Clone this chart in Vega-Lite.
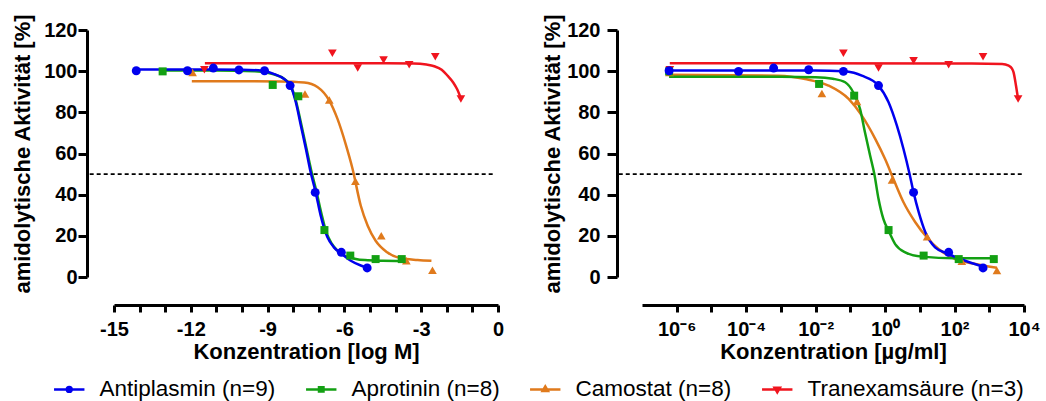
{
  "$schema": "https://vega.github.io/schema/vega-lite/v6.json",
  "padding": {"left": 11, "top": 13, "right": 0, "bottom": 0},
  "spacing": 37,
  "config": {
    "font": "Liberation Sans",
    "view": {"stroke": null},
    "axis": {
      "grid": false,
      "domainColor": "#000000",
      "domainWidth": 3,
      "tickColor": "#000000",
      "tickWidth": 3,
      "labelColor": "#000000",
      "labelFont": "Liberation Sans",
      "labelFontSize": 20,
      "labelFontWeight": "bold",
      "titleColor": "#000000",
      "titleFont": "Liberation Sans",
      "titleFontSize": 22,
      "titleFontWeight": "bold",
      "labelFlush": false,
      "labelOverlap": false,
      "labelBound": false
    }
  },
  "datasets": {
    "leftCurves": [
      {"series": "Tranexamsäure (n=3)", "x": -11.45, "y": 103.8},
      {"series": "Tranexamsäure (n=3)", "x": -8, "y": 103.8},
      {"series": "Tranexamsäure (n=3)", "x": -5, "y": 103.8},
      {"series": "Tranexamsäure (n=3)", "x": -3.3, "y": 103.7},
      {"series": "Tranexamsäure (n=3)", "x": -2.8, "y": 103.2},
      {"series": "Tranexamsäure (n=3)", "x": -2.49, "y": 102.4},
      {"series": "Tranexamsäure (n=3)", "x": -2.2, "y": 100.7},
      {"series": "Tranexamsäure (n=3)", "x": -1.97, "y": 97.8},
      {"series": "Tranexamsäure (n=3)", "x": -1.75, "y": 94.5},
      {"series": "Tranexamsäure (n=3)", "x": -1.6, "y": 91.3},
      {"series": "Tranexamsäure (n=3)", "x": -1.45, "y": 86.8},
      {"series": "Camostat (n=8)", "x": -11.96, "y": 95.1},
      {"series": "Camostat (n=8)", "x": -10, "y": 95.1},
      {"series": "Camostat (n=8)", "x": -8.5, "y": 95.0},
      {"series": "Camostat (n=8)", "x": -7.57, "y": 94.5},
      {"series": "Camostat (n=8)", "x": -7.04, "y": 92.2},
      {"series": "Camostat (n=8)", "x": -6.59, "y": 85.7},
      {"series": "Camostat (n=8)", "x": -6.27, "y": 76.8},
      {"series": "Camostat (n=8)", "x": -5.95, "y": 64.6},
      {"series": "Camostat (n=8)", "x": -5.68, "y": 52.5},
      {"series": "Camostat (n=8)", "x": -5.36, "y": 34.6},
      {"series": "Camostat (n=8)", "x": -5.09, "y": 24.9},
      {"series": "Camostat (n=8)", "x": -4.78, "y": 17.6},
      {"series": "Camostat (n=8)", "x": -4.33, "y": 12.0},
      {"series": "Camostat (n=8)", "x": -3.8, "y": 9.1},
      {"series": "Camostat (n=8)", "x": -3.14, "y": 8.3},
      {"series": "Camostat (n=8)", "x": -2.6, "y": 7.9},
      {"series": "Aprotinin (n=8)", "x": -13.1, "y": 100.3},
      {"series": "Aprotinin (n=8)", "x": -11, "y": 100.3},
      {"series": "Aprotinin (n=8)", "x": -9.5, "y": 100.0},
      {"series": "Aprotinin (n=8)", "x": -8.8, "y": 98.6},
      {"series": "Aprotinin (n=8)", "x": -8.35, "y": 96.2},
      {"series": "Aprotinin (n=8)", "x": -8.1, "y": 93.0},
      {"series": "Aprotinin (n=8)", "x": -7.9, "y": 86.0},
      {"series": "Aprotinin (n=8)", "x": -7.7, "y": 75.0},
      {"series": "Aprotinin (n=8)", "x": -7.5, "y": 63.5},
      {"series": "Aprotinin (n=8)", "x": -7.3, "y": 52.0},
      {"series": "Aprotinin (n=8)", "x": -7.1, "y": 42.0},
      {"series": "Aprotinin (n=8)", "x": -6.9, "y": 31.0},
      {"series": "Aprotinin (n=8)", "x": -6.7, "y": 21.5},
      {"series": "Aprotinin (n=8)", "x": -6.5, "y": 16.3},
      {"series": "Aprotinin (n=8)", "x": -6.27, "y": 12.8},
      {"series": "Aprotinin (n=8)", "x": -6.0, "y": 10.4},
      {"series": "Aprotinin (n=8)", "x": -5.6, "y": 8.9},
      {"series": "Aprotinin (n=8)", "x": -5.2, "y": 8.2},
      {"series": "Aprotinin (n=8)", "x": -4.5, "y": 7.9},
      {"series": "Aprotinin (n=8)", "x": -3.76, "y": 7.8},
      {"series": "Antiplasmin (n=9)", "x": -14.13, "y": 100.8},
      {"series": "Antiplasmin (n=9)", "x": -12, "y": 100.8},
      {"series": "Antiplasmin (n=9)", "x": -10, "y": 100.7},
      {"series": "Antiplasmin (n=9)", "x": -9.2, "y": 100.2},
      {"series": "Antiplasmin (n=9)", "x": -8.74, "y": 98.6},
      {"series": "Antiplasmin (n=9)", "x": -8.35, "y": 96.2},
      {"series": "Antiplasmin (n=9)", "x": -8.1, "y": 92.8},
      {"series": "Antiplasmin (n=9)", "x": -7.9, "y": 85.0},
      {"series": "Antiplasmin (n=9)", "x": -7.7, "y": 73.5},
      {"series": "Antiplasmin (n=9)", "x": -7.5, "y": 62.0},
      {"series": "Antiplasmin (n=9)", "x": -7.32, "y": 51.0},
      {"series": "Antiplasmin (n=9)", "x": -7.12, "y": 41.0},
      {"series": "Antiplasmin (n=9)", "x": -6.93, "y": 30.0},
      {"series": "Antiplasmin (n=9)", "x": -6.67, "y": 19.5},
      {"series": "Antiplasmin (n=9)", "x": -6.41, "y": 14.4},
      {"series": "Antiplasmin (n=9)", "x": -6.11, "y": 11.3},
      {"series": "Antiplasmin (n=9)", "x": -5.75, "y": 7.9},
      {"series": "Antiplasmin (n=9)", "x": -5.36, "y": 5.6},
      {"series": "Antiplasmin (n=9)", "x": -5.11, "y": 4.6}
    ],
    "leftPoints": [
      {"series": "Tranexamsäure (n=3)", "x": -11.47, "y": 100.7},
      {"series": "Tranexamsäure (n=3)", "x": -6.47, "y": 108.7},
      {"series": "Tranexamsäure (n=3)", "x": -5.48, "y": 101.5},
      {"series": "Tranexamsäure (n=3)", "x": -4.47, "y": 105.4},
      {"series": "Tranexamsäure (n=3)", "x": -3.47, "y": 103.1},
      {"series": "Tranexamsäure (n=3)", "x": -2.45, "y": 107.0},
      {"series": "Tranexamsäure (n=3)", "x": -1.45, "y": 86.5},
      {"series": "Camostat (n=8)", "x": -11.93, "y": 99.4},
      {"series": "Camostat (n=8)", "x": -7.54, "y": 88.9},
      {"series": "Camostat (n=8)", "x": -6.59, "y": 86.0},
      {"series": "Camostat (n=8)", "x": -5.57, "y": 46.5},
      {"series": "Camostat (n=8)", "x": -4.56, "y": 20.1},
      {"series": "Camostat (n=8)", "x": -3.58, "y": 7.9},
      {"series": "Camostat (n=8)", "x": -2.56, "y": 3.3},
      {"series": "Aprotinin (n=8)", "x": -13.1, "y": 99.9},
      {"series": "Aprotinin (n=8)", "x": -8.8, "y": 93.3},
      {"series": "Aprotinin (n=8)", "x": -7.8, "y": 87.8},
      {"series": "Aprotinin (n=8)", "x": -6.78, "y": 22.8},
      {"series": "Aprotinin (n=8)", "x": -5.77, "y": 10.4},
      {"series": "Aprotinin (n=8)", "x": -4.78, "y": 8.7},
      {"series": "Aprotinin (n=8)", "x": -3.76, "y": 8.7},
      {"series": "Antiplasmin (n=9)", "x": -14.13, "y": 100.2},
      {"series": "Antiplasmin (n=9)", "x": -12.13, "y": 100.2},
      {"series": "Antiplasmin (n=9)", "x": -11.12, "y": 101.5},
      {"series": "Antiplasmin (n=9)", "x": -10.12, "y": 100.6},
      {"series": "Antiplasmin (n=9)", "x": -9.12, "y": 100.2},
      {"series": "Antiplasmin (n=9)", "x": -8.12, "y": 93.0},
      {"series": "Antiplasmin (n=9)", "x": -7.14, "y": 41.1},
      {"series": "Antiplasmin (n=9)", "x": -6.12, "y": 12.0},
      {"series": "Antiplasmin (n=9)", "x": -5.11, "y": 4.4}
    ],
    "rightCurves": [
      {"series": "Tranexamsäure (n=3)", "x": 6.31e-7, "y": 103.8},
      {"series": "Tranexamsäure (n=3)", "x": 0.001, "y": 103.8},
      {"series": "Tranexamsäure (n=3)", "x": 100, "y": 103.7},
      {"series": "Tranexamsäure (n=3)", "x": 2344, "y": 103.5},
      {"series": "Tranexamsäure (n=3)", "x": 3631, "y": 102.7},
      {"series": "Tranexamsäure (n=3)", "x": 4467, "y": 101.4},
      {"series": "Tranexamsäure (n=3)", "x": 5012, "y": 99.4},
      {"series": "Tranexamsäure (n=3)", "x": 5888, "y": 92.9},
      {"series": "Tranexamsäure (n=3)", "x": 6761, "y": 86.5},
      {"series": "Camostat (n=8)", "x": 6.17e-7, "y": 98.3},
      {"series": "Camostat (n=8)", "x": 8.51e-4, "y": 97.8},
      {"series": "Camostat (n=8)", "x": 5.01e-3, "y": 96.2},
      {"series": "Camostat (n=8)", "x": 0.02344, "y": 93.0},
      {"series": "Camostat (n=8)", "x": 0.0891, "y": 86.5},
      {"series": "Camostat (n=8)", "x": 0.2138, "y": 78.4},
      {"series": "Camostat (n=8)", "x": 0.5248, "y": 67.0},
      {"series": "Camostat (n=8)", "x": 1.0, "y": 57.3},
      {"series": "Camostat (n=8)", "x": 1.738, "y": 47.6},
      {"series": "Camostat (n=8)", "x": 3.388, "y": 36.3},
      {"series": "Camostat (n=8)", "x": 7.413, "y": 26.6},
      {"series": "Camostat (n=8)", "x": 15.85, "y": 19.3},
      {"series": "Camostat (n=8)", "x": 34.67, "y": 13.6},
      {"series": "Camostat (n=8)", "x": 104.7, "y": 8.7},
      {"series": "Camostat (n=8)", "x": 398.1, "y": 6.3},
      {"series": "Camostat (n=8)", "x": 1660, "y": 4.5},
      {"series": "Aprotinin (n=8)", "x": 6.03e-7, "y": 97.3},
      {"series": "Aprotinin (n=8)", "x": 0.001, "y": 97.3},
      {"series": "Aprotinin (n=8)", "x": 0.01, "y": 97.1},
      {"series": "Aprotinin (n=8)", "x": 0.0316, "y": 96.3},
      {"series": "Aprotinin (n=8)", "x": 0.0708, "y": 94.6},
      {"series": "Aprotinin (n=8)", "x": 0.123, "y": 89.5},
      {"series": "Aprotinin (n=8)", "x": 0.1905, "y": 81.6},
      {"series": "Aprotinin (n=8)", "x": 0.263, "y": 70.3},
      {"series": "Aprotinin (n=8)", "x": 0.3715, "y": 58.9},
      {"series": "Aprotinin (n=8)", "x": 0.49, "y": 50.0},
      {"series": "Aprotinin (n=8)", "x": 0.646, "y": 38.0},
      {"series": "Aprotinin (n=8)", "x": 0.891, "y": 28.2},
      {"series": "Aprotinin (n=8)", "x": 1.259, "y": 22.5},
      {"series": "Aprotinin (n=8)", "x": 1.95, "y": 16.0},
      {"series": "Aprotinin (n=8)", "x": 3.8, "y": 12.0},
      {"series": "Aprotinin (n=8)", "x": 11.48, "y": 9.9},
      {"series": "Aprotinin (n=8)", "x": 104.7, "y": 9.1},
      {"series": "Aprotinin (n=8)", "x": 1349, "y": 9.1},
      {"series": "Antiplasmin (n=9)", "x": 6.03e-7, "y": 100.3},
      {"series": "Antiplasmin (n=9)", "x": 0.0001, "y": 100.3},
      {"series": "Antiplasmin (n=9)", "x": 0.01, "y": 100.3},
      {"series": "Antiplasmin (n=9)", "x": 0.0631, "y": 100.0},
      {"series": "Antiplasmin (n=9)", "x": 0.1259, "y": 99.2},
      {"series": "Antiplasmin (n=9)", "x": 0.2138, "y": 97.8},
      {"series": "Antiplasmin (n=9)", "x": 0.646, "y": 93.0},
      {"series": "Antiplasmin (n=9)", "x": 1.259, "y": 84.9},
      {"series": "Antiplasmin (n=9)", "x": 2.188, "y": 73.5},
      {"series": "Antiplasmin (n=9)", "x": 3.388, "y": 62.2},
      {"series": "Antiplasmin (n=9)", "x": 5.012, "y": 50.4},
      {"series": "Antiplasmin (n=9)", "x": 6.607, "y": 41.1},
      {"series": "Antiplasmin (n=9)", "x": 9.333, "y": 31.4},
      {"series": "Antiplasmin (n=9)", "x": 14.45, "y": 21.7},
      {"series": "Antiplasmin (n=9)", "x": 27.54, "y": 14.4},
      {"series": "Antiplasmin (n=9)", "x": 64.57, "y": 11.3},
      {"series": "Antiplasmin (n=9)", "x": 162.2, "y": 8.5},
      {"series": "Antiplasmin (n=9)", "x": 660.7, "y": 5.0}
    ],
    "rightPoints": [
      {"series": "Tranexamsäure (n=3)", "x": 6.31e-7, "y": 100.7},
      {"series": "Tranexamsäure (n=3)", "x": 0.0631, "y": 108.7},
      {"series": "Tranexamsäure (n=3)", "x": 0.646, "y": 101.5},
      {"series": "Tranexamsäure (n=3)", "x": 6.61, "y": 105.1},
      {"series": "Tranexamsäure (n=3)", "x": 67.6, "y": 103.1},
      {"series": "Tranexamsäure (n=3)", "x": 661, "y": 107.0},
      {"series": "Tranexamsäure (n=3)", "x": 6761, "y": 86.5},
      {"series": "Camostat (n=8)", "x": 6.17e-7, "y": 99.4},
      {"series": "Camostat (n=8)", "x": 0.01514, "y": 89.2},
      {"series": "Camostat (n=8)", "x": 0.1549, "y": 85.3},
      {"series": "Camostat (n=8)", "x": 1.585, "y": 47.1},
      {"series": "Camostat (n=8)", "x": 16.22, "y": 19.6},
      {"series": "Camostat (n=8)", "x": 162.2, "y": 7.6},
      {"series": "Camostat (n=8)", "x": 1660, "y": 3.1},
      {"series": "Aprotinin (n=8)", "x": 6.03e-7, "y": 99.9},
      {"series": "Aprotinin (n=8)", "x": 0.01259, "y": 93.8},
      {"series": "Aprotinin (n=8)", "x": 0.1288, "y": 88.1},
      {"series": "Aprotinin (n=8)", "x": 1.259, "y": 22.8},
      {"series": "Aprotinin (n=8)", "x": 12.88, "y": 10.4},
      {"series": "Aprotinin (n=8)", "x": 131.8, "y": 8.7},
      {"series": "Aprotinin (n=8)", "x": 1349, "y": 8.7},
      {"series": "Antiplasmin (n=9)", "x": 6.03e-7, "y": 100.2},
      {"series": "Antiplasmin (n=9)", "x": 6.03e-5, "y": 99.9},
      {"series": "Antiplasmin (n=9)", "x": 6.17e-4, "y": 101.5},
      {"series": "Antiplasmin (n=9)", "x": 6.31e-3, "y": 100.7},
      {"series": "Antiplasmin (n=9)", "x": 0.0631, "y": 99.9},
      {"series": "Antiplasmin (n=9)", "x": 0.646, "y": 93.0},
      {"series": "Antiplasmin (n=9)", "x": 6.61, "y": 41.1},
      {"series": "Antiplasmin (n=9)", "x": 67.6, "y": 12.0},
      {"series": "Antiplasmin (n=9)", "x": 661, "y": 4.4}
    ]
  },
  "hconcat": [
    {
      "width": 384,
      "height": 247,
      "encoding": {
        "x": {
          "field": "x",
          "type": "quantitative",
          "scale": {"domain": [-15, 0], "nice": false, "zero": false},
          "axis": {
            "title": "Konzentration [log M]",
            "values": [-15, -14, -13, -12, -11, -10, -9, -8, -7, -6, -5, -4, -3, -2, -1, 0],
            "labelExpr": "datum.value % 3 === 0 ? '' + datum.value : ''",
            "offset": 28,
            "tickSize": 7,
            "labelPadding": 7,
            "titlePadding": 2,
            "encode": {"ticks": {"update": {"y2": {"signal": "datum.value % 3 === 0 ? 7 : 4.5"}}}}
          }
        },
        "y": {
          "field": "y",
          "type": "quantitative",
          "scale": {"domain": [0, 120], "nice": false, "zero": false},
          "axis": {
            "title": "amidolytische Aktivität [%]",
            "values": [0, 20, 40, 60, 80, 100, 120],
            "offset": 27,
            "tickSize": 9,
            "labelPadding": 1,
            "titlePadding": 9
          }
        }
      },
      "layer": [
        {
          "data": {"values": [{"x": -15.95, "x2": -0.09, "y": 50}]},
          "mark": {"type": "rule", "color": "#000000", "strokeWidth": 1.6, "strokeDash": [4, 3]},
          "encoding": {"x2": {"field": "x2"}}
        },
        {
          "data": {"name": "leftCurves"},
          "mark": {"type": "line", "interpolate": "monotone", "strokeWidth": 2.5},
          "encoding": {
            "color": {
              "field": "series",
              "type": "nominal",
              "scale": {
                "domain": ["Antiplasmin (n=9)", "Aprotinin (n=8)", "Camostat (n=8)", "Tranexamsäure (n=3)"],
                "range": ["#0000ee", "#13a013", "#e07a1c", "#f0141e"]
              },
              "legend": {
                "orient": "none",
                "legendX": -56,
                "legendY": 348,
                "direction": "horizontal",
                "title": null,
                "padding": 0,
                "labelFont": "Liberation Sans",
                "labelFontSize": 22.5,
                "labelFontWeight": "normal",
                "labelColor": "#000000",
                "labelLimit": 400,
                "symbolSize": 256,
                "symbolStrokeWidth": 2.5,
                "labelOffset": 19,
                "columnPadding": 25,
                "encode": {
                  "symbols": {
                    "update": {
                      "shape": {"signal": "datum.value === 'Antiplasmin (n=9)' ? 'M-1.9,0H1.9M0.3,0A0.3,0.3,0,1,1,-0.3,0A0.3,0.3,0,1,1,0.3,0Z' : datum.value === 'Aprotinin (n=8)' ? 'M-1.9,0H1.9M-0.28,-0.28H0.28V0.28H-0.28Z' : datum.value === 'Camostat (n=8)' ? 'M-1.9,0H1.9M0,-0.36L0.33,0.2H-0.33Z' : 'M-1.9,0H1.9M0,0.36L0.33,-0.2H-0.33Z'"},
                      "fill": {"signal": "datum.value === 'Antiplasmin (n=9)' ? '#0000ee' : datum.value === 'Aprotinin (n=8)' ? '#13a013' : datum.value === 'Camostat (n=8)' ? '#e07a1c' : '#f0141e'"},
                      "stroke": {"signal": "datum.value === 'Antiplasmin (n=9)' ? '#0000ee' : datum.value === 'Aprotinin (n=8)' ? '#13a013' : datum.value === 'Camostat (n=8)' ? '#e07a1c' : '#f0141e'"},
                      "strokeWidth": {"value": 2.5},
                      "opacity": {"value": 1},
                      "fillOpacity": {"value": 1}
                    }
                  }
                }
              }
            }
          }
        },
        {
          "data": {"name": "leftPoints"},
          "transform": [{"filter": "datum.series === 'Tranexamsäure (n=3)'"}],
          "mark": {"type": "point", "shape": "triangle-down", "filled": true, "size": 75, "opacity": 1, "strokeWidth": 0},
          "encoding": {"color": {"field": "series", "type": "nominal", "legend": null}}
        },
        {
          "data": {"name": "leftPoints"},
          "transform": [{"filter": "datum.series === 'Camostat (n=8)'"}],
          "mark": {"type": "point", "shape": "triangle-up", "filled": true, "size": 75, "opacity": 1, "strokeWidth": 0},
          "encoding": {"color": {"field": "series", "type": "nominal", "legend": null}}
        },
        {
          "data": {"name": "leftPoints"},
          "transform": [{"filter": "datum.series === 'Aprotinin (n=8)'"}],
          "mark": {"type": "point", "shape": "square", "filled": true, "size": 64, "opacity": 1, "strokeWidth": 0},
          "encoding": {"color": {"field": "series", "type": "nominal", "legend": null}}
        },
        {
          "data": {"name": "leftPoints"},
          "transform": [{"filter": "datum.series === 'Antiplasmin (n=9)'"}],
          "mark": {"type": "point", "shape": "circle", "filled": true, "size": 80, "opacity": 1, "strokeWidth": 0},
          "encoding": {"color": {"field": "series", "type": "nominal", "legend": null}}
        }
      ]
    },
    {
      "width": 382,
      "height": 247,
      "encoding": {
        "x": {
          "field": "x",
          "type": "quantitative",
          "scale": {"type": "log", "domain": [1e-7, 10000], "nice": false},
          "axis": {
            "title": "Konzentration [µg/ml]",
            "values": [1e-6, 1e-5, 1e-4, 1e-3, 0.01, 0.1, 1, 10, 100, 1000, 10000],
            "labelExpr": "round(log(datum.value)/LN10) === -6 ? '10⁻⁶' : round(log(datum.value)/LN10) === -4 ? '10⁻⁴' : round(log(datum.value)/LN10) === -2 ? '10⁻²' : round(log(datum.value)/LN10) === 0 ? '10⁰' : round(log(datum.value)/LN10) === 2 ? '10²' : round(log(datum.value)/LN10) === 4 ? '10⁴' : ''",
            "offset": 28,
            "tickSize": 7,
            "labelPadding": 7,
            "titlePadding": 2,
            "encode": {"ticks": {"update": {"y2": {"signal": "abs(round(log(datum.value)/LN10)) % 2 === 0 ? 7 : 4.5"}}}}
          }
        },
        "y": {
          "field": "y",
          "type": "quantitative",
          "scale": {"domain": [0, 120], "nice": false, "zero": false},
          "axis": {
            "title": "amidolytische Aktivität [%]",
            "values": [0, 20, 40, 60, 80, 100, 120],
            "offset": 25,
            "tickSize": 10,
            "labelPadding": 7,
            "titlePadding": 2
          }
        }
      },
      "layer": [
        {
          "data": {"values": [{"x": 2.14e-8, "x2": 10000, "y": 50}]},
          "mark": {"type": "rule", "color": "#000000", "strokeWidth": 1.6, "strokeDash": [4, 3]},
          "encoding": {"x2": {"field": "x2"}}
        },
        {
          "data": {"name": "rightCurves"},
          "mark": {"type": "line", "interpolate": "monotone", "strokeWidth": 2.5},
          "encoding": {"color": {"field": "series", "type": "nominal", "legend": null}}
        },
        {
          "data": {"name": "rightPoints"},
          "transform": [{"filter": "datum.series === 'Tranexamsäure (n=3)'"}],
          "mark": {"type": "point", "shape": "triangle-down", "filled": true, "size": 75, "opacity": 1, "strokeWidth": 0},
          "encoding": {"color": {"field": "series", "type": "nominal", "legend": null}}
        },
        {
          "data": {"name": "rightPoints"},
          "transform": [{"filter": "datum.series === 'Camostat (n=8)'"}],
          "mark": {"type": "point", "shape": "triangle-up", "filled": true, "size": 75, "opacity": 1, "strokeWidth": 0},
          "encoding": {"color": {"field": "series", "type": "nominal", "legend": null}}
        },
        {
          "data": {"name": "rightPoints"},
          "transform": [{"filter": "datum.series === 'Aprotinin (n=8)'"}],
          "mark": {"type": "point", "shape": "square", "filled": true, "size": 64, "opacity": 1, "strokeWidth": 0},
          "encoding": {"color": {"field": "series", "type": "nominal", "legend": null}}
        },
        {
          "data": {"name": "rightPoints"},
          "transform": [{"filter": "datum.series === 'Antiplasmin (n=9)'"}],
          "mark": {"type": "point", "shape": "circle", "filled": true, "size": 80, "opacity": 1, "strokeWidth": 0},
          "encoding": {"color": {"field": "series", "type": "nominal", "legend": null}}
        }
      ]
    }
  ]
}
